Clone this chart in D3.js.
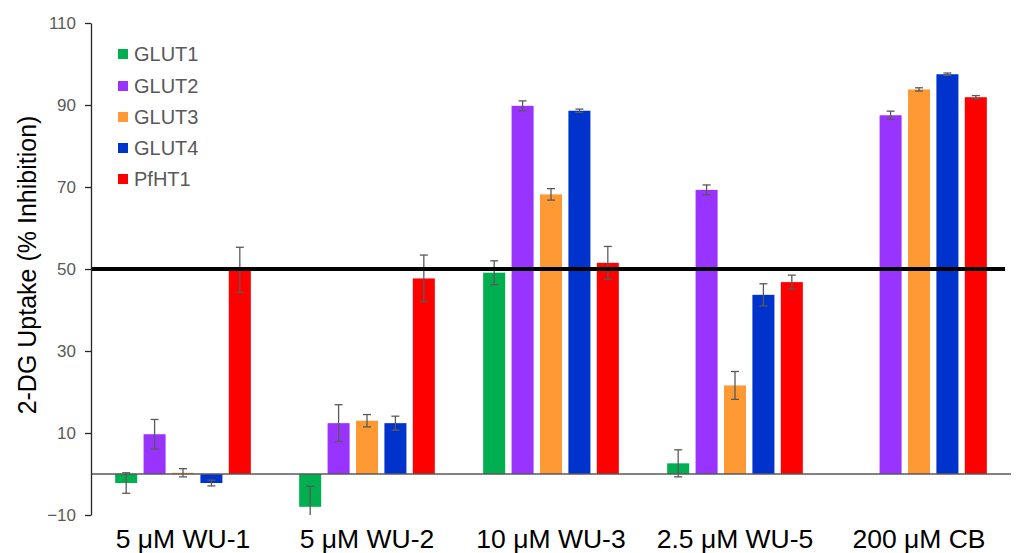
<!DOCTYPE html>
<html>
<head>
<meta charset="utf-8">
<script src="https://cdn.jsdelivr.net/npm/d3@7"></script>
<style>
  html, body { margin: 0; padding: 0; background: #fff; }
  svg { display: block; font-family: "Liberation Sans", Arial, sans-serif; }
</style>
</head>
<body>
<svg id="chart" width="1036" height="553"></svg>
<script>
const categories = ["5 \u03bcM WU-1", "5 \u03bcM WU-2", "10 \u03bcM WU-3", "2.5 \u03bcM WU-5", "200 \u03bcM CB"];
const seriesNames = ["GLUT1", "GLUT2", "GLUT3", "GLUT4", "PfHT1"];
const seriesColors = ["#00B050", "#9933FF", "#FF9933", "#0033CC", "#FF0000"];
const GLUT1 = [-2.2, -8.0, 49.1, 2.6, 0];
const GLUT2 = [9.7, 12.4, 89.8, 69.3, 87.5];
const GLUT3 = [0.3, 13.0, 68.2, 21.6, 93.8];
const GLUT4 = [-2.2, 12.4, 88.6, 43.7, 97.5];
const PfHT1 = [49.8, 47.7, 51.5, 46.8, 91.9];
const GLUT1_err = [2.5, 5.0, 2.9, 3.3, 0];
const GLUT2_err = [3.6, 4.5, 1.2, 1.2, 1.0];
const GLUT3_err = [1.0, 1.5, 1.4, 3.4, 0.4];
const GLUT4_err = [0.7, 1.7, 0.4, 2.7, 0.3];
const PfHT1_err = [5.5, 5.7, 4.0, 1.7, 0.4];
const yTicks = [-10, 10, 30, 50, 70, 90, 110];
const threshold = 50;
const yTitle = "2-DG Uptake (% Inhibition)";

const values = [GLUT1, GLUT2, GLUT3, GLUT4, PfHT1];
const errors = [GLUT1_err, GLUT2_err, GLUT3_err, GLUT4_err, PfHT1_err];

const svg = d3.select("#chart");
const pLeft = 91, pRight = 1011, pTop = 23, pBottom = 515;

const y = d3.scaleLinear().domain([-10, 110]).range([pBottom, pTop]);
const x0 = d3.scaleBand().domain(categories).range([pLeft, pRight]).paddingInner(0.228).paddingOuter(0.114);
const x1 = d3.scaleBand().domain(seriesNames).range([0, x0.bandwidth()]).paddingInner(0.225).paddingOuter(0.1125);

svg.append("defs").append("clipPath").attr("id", "plotclip")
  .append("rect").attr("x", pLeft).attr("y", pTop).attr("width", pRight - pLeft).attr("height", pBottom - pTop);

const data = [];
categories.forEach((c, ci) => {
  seriesNames.forEach((s, si) => {
    data.push({ c, s, si, v: values[si][ci], e: errors[si][ci] });
  });
});

const plot = svg.append("g").attr("clip-path", "url(#plotclip)");

// bars
plot.selectAll("rect.bar").data(data.filter(d => d.v !== 0)).join("rect")
  .attr("class", "bar")
  .attr("x", d => x0(d.c) + x1(d.s))
  .attr("width", x1.bandwidth())
  .attr("y", d => y(Math.max(0, d.v)))
  .attr("height", d => Math.abs(y(d.v) - y(0)))
  .attr("fill", d => seriesColors[d.si]);

// zero line
svg.append("line").attr("x1", pLeft).attr("x2", pRight).attr("y1", y(0)).attr("y2", y(0))
  .attr("stroke", "#595959").attr("stroke-width", 1.3);

// error bars
const eb = plot.selectAll("g.err").data(data.filter(d => d.e > 0)).join("g").attr("class", "err")
  .attr("stroke", "#595959").attr("stroke-width", 1.3);
eb.append("line")
  .attr("x1", d => x0(d.c) + x1(d.s) + x1.bandwidth() / 2)
  .attr("x2", d => x0(d.c) + x1(d.s) + x1.bandwidth() / 2)
  .attr("y1", d => y(d.v + d.e)).attr("y2", d => y(d.v - d.e));
eb.append("line")
  .attr("x1", d => x0(d.c) + x1(d.s) + x1.bandwidth() / 2 - 4)
  .attr("x2", d => x0(d.c) + x1(d.s) + x1.bandwidth() / 2 + 4)
  .attr("y1", d => y(d.v + d.e)).attr("y2", d => y(d.v + d.e));
eb.append("line")
  .attr("x1", d => x0(d.c) + x1(d.s) + x1.bandwidth() / 2 - 4)
  .attr("x2", d => x0(d.c) + x1(d.s) + x1.bandwidth() / 2 + 4)
  .attr("y1", d => y(d.v - d.e)).attr("y2", d => y(d.v - d.e));

// threshold line
svg.append("line").attr("x1", pLeft).attr("x2", 1005).attr("y1", y(threshold)).attr("y2", y(threshold))
  .attr("stroke", "#000").attr("stroke-width", 4);

// y axis
const yAxis = d3.axisLeft(y).tickValues(yTicks).tickSize(6).tickSizeOuter(0).tickPadding(9);
const ga = svg.append("g").attr("transform", `translate(${pLeft},0)`).call(yAxis);
ga.select(".domain").attr("stroke", "#262626").attr("stroke-width", 1.3);
ga.selectAll(".tick line").attr("stroke", "#262626").attr("stroke-width", 1.3);
ga.selectAll(".tick text").attr("fill", "#595959").attr("font-size", 17)
  .attr("font-family", "Liberation Sans, Arial, sans-serif");

// x labels
svg.selectAll("text.xlab").data(categories).join("text")
  .attr("class", "xlab")
  .attr("x", d => x0(d) + x0.bandwidth() / 2)
  .attr("y", 548)
  .attr("text-anchor", "middle")
  .attr("font-size", 26.5)
  .attr("fill", "#000")
  .text(d => d);

// y title
svg.append("text")
  .attr("transform", "translate(36,265) rotate(-90)")
  .attr("text-anchor", "middle")
  .attr("font-size", 25)
  .attr("fill", "#000")
  .text(yTitle);

// legend
const lg = svg.append("g");
const legendY = [54, 86, 117, 148, 179];
seriesNames.forEach((s, i) => {
  lg.append("rect").attr("x", 118).attr("y", legendY[i] - 5).attr("width", 10).attr("height", 10)
    .attr("fill", seriesColors[i]);
  lg.append("text").attr("x", 134).attr("y", legendY[i] + 7).attr("font-size", 20)
    .attr("fill", "#595959").text(s);
});
</script>
</body>
</html>
